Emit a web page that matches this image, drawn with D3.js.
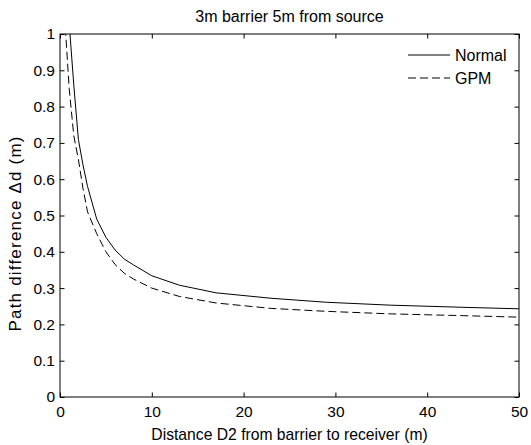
<!DOCTYPE html>
<html>
<head>
<meta charset="utf-8">
<script src="https://cdn.jsdelivr.net/npm/d3@7/dist/d3.min.js"></script>
<style>
  body { margin: 0; background: #fff; }
  text { font-family: "Liberation Sans", Arial, Helvetica, sans-serif; fill: #000; }
</style>
</head>
<body>
<div id="chart"></div>
<script>
// distance D2 (m)
var distance = [0.5, 1, 1.5, 2, 2.5, 3, 4, 5, 6, 7, 8, 10, 13, 17, 23, 29, 36, 44, 50];
// path difference (m)
var normal = [1.2, 1.03, 0.86, 0.71, 0.64, 0.58, 0.49, 0.44, 0.405, 0.38, 0.364, 0.334, 0.308, 0.287, 0.272, 0.261, 0.253, 0.247, 0.243];
var gpm = [1.05, 0.85, 0.72, 0.655, 0.575, 0.51, 0.45, 0.40, 0.365, 0.341, 0.325, 0.30, 0.277, 0.259, 0.244, 0.236, 0.229, 0.224, 0.220];
var seriesNames = ["Normal", "GPM"];
var xTicks = [0, 10, 20, 30, 40, 50];
var yTicks = [0, 0.1, 0.2, 0.3, 0.4, 0.5, 0.6, 0.7, 0.8, 0.9, 1];

function drawChart(id) {
    var W = 531, H = 445;
    var m = {l: 60, t: 34, r: 12, b: 48};
    var w = W - m.l - m.r, h = H - m.t - m.b;

    var svg = d3.select(id).append("svg")
        .attr("width", W).attr("height", H);

    var g = svg.append("g")
        .attr("transform", "translate(" + m.l + "," + m.t + ")");

    var x = d3.scaleLinear().domain([0, 50]).range([0, w]);
    var y = d3.scaleLinear().domain([0, 1]).range([h, 0]);

    g.append("clipPath").attr("id", "clip")
        .append("rect").attr("width", w).attr("height", h);

    // axes, ticks pointing inward
    var xb = g.append("g").attr("transform", "translate(0," + h + ")")
        .call(d3.axisBottom(x).tickValues(xTicks).tickSize(-4.5).tickSizeOuter(0).tickPadding(9));
    var xt = g.append("g")
        .call(d3.axisTop(x).tickValues(xTicks).tickSize(-4.5).tickSizeOuter(0).tickFormat(""));
    var yl = g.append("g")
        .call(d3.axisLeft(y).tickValues(yTicks).tickSize(-4.5).tickSizeOuter(0).tickPadding(5)
            .tickFormat(function(d) { return d3.format("")(+d.toFixed(1)); }));
    var yr = g.append("g").attr("transform", "translate(" + w + ",0)")
        .call(d3.axisRight(y).tickValues(yTicks).tickSize(-4.5).tickSizeOuter(0).tickFormat(""));

    [xb, xt, yl, yr].forEach(function(a) {
        a.select(".domain").remove();
        a.selectAll("line").attr("stroke", "#000");
        a.selectAll("text").style("font-size", "15.5px").attr("fill", "#000");
    });

    g.append("rect").attr("width", w).attr("height", h)
        .attr("fill", "none").attr("stroke", "#000").attr("stroke-width", 1);

    var line = d3.line()
        .x(function(d) { return x(d[0]); })
        .y(function(d) { return y(d[1]); });

    var data = [d3.zip(distance, normal), d3.zip(distance, gpm)];
    var dash = [null, "8,4"];

    g.append("g").attr("clip-path", "url(#clip)")
        .selectAll("path").data(data).enter().append("path")
        .attr("d", line)
        .attr("fill", "none")
        .attr("stroke", "#000")
        .attr("stroke-width", 1)
        .attr("stroke-dasharray", function(d, i) { return dash[i]; });

    // legend
    var leg = g.selectAll(".leg").data(seriesNames).enter().append("g")
        .attr("class", "leg")
        .attr("transform", function(d, i) { return "translate(" + (w - 111) + "," + (21 + i * 23) + ")"; });
    leg.append("line").attr("x1", 0).attr("x2", 42)
        .attr("stroke", "#000").attr("stroke-width", 1)
        .attr("stroke-dasharray", function(d, i) { return dash[i]; });
    leg.append("text").attr("x", 47).attr("dy", "0.35em")
        .style("font-size", "16px").text(function(d) { return d; });

    // title and labels
    svg.append("text").attr("x", m.l + w / 2).attr("y", 22)
        .attr("text-anchor", "middle").style("font-size", "16px")
        .text("3m barrier 5m from source");
    svg.append("text").attr("x", m.l + w / 2).attr("y", 440)
        .attr("text-anchor", "middle").style("font-size", "15.7px")
        .text("Distance D2 from barrier to receiver (m)");
    svg.append("text")
        .attr("transform", "translate(21,234) rotate(-90)")
        .attr("text-anchor", "middle").style("font-size", "17px")
        .attr("textLength", 195).attr("lengthAdjust", "spacing")
        .text("Path difference \u0394d (m)");
}

drawChart("#chart");
</script>
</body>
</html>
